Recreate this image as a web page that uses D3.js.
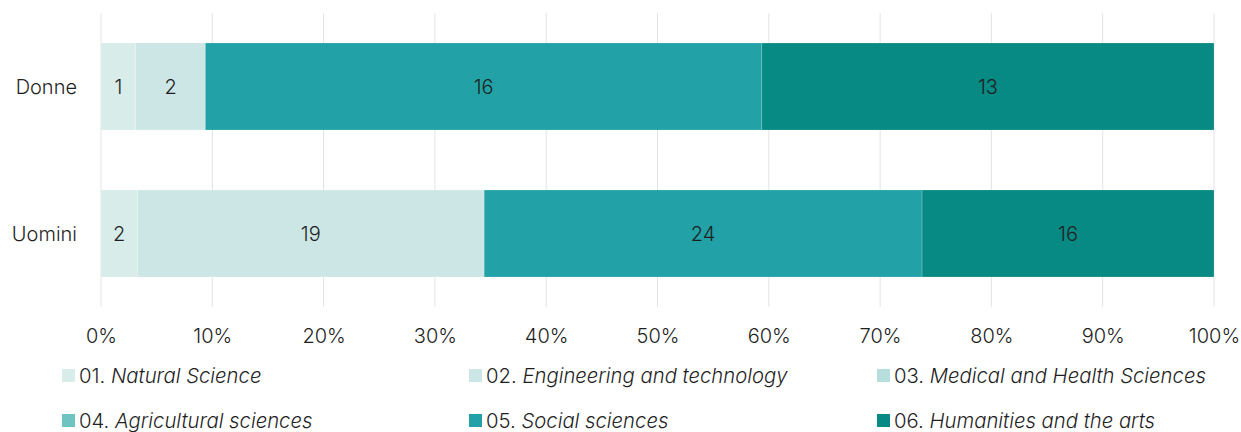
<!DOCTYPE html>
<html>
<head>
<meta charset="utf-8">
<script src="https://cdn.jsdelivr.net/npm/d3@7"></script>
<style>
  html, body { margin: 0; padding: 0; background: #fff; }
  svg { display: block; font-family: Inter, sans-serif; font-weight: 300; }
</style>
</head>
<body>
<svg id="chart" width="1241" height="432"></svg>
<script>
// Groups (rows) and fields of study
const groups = ["Donne", "Uomini"];
const fieldCodes = ["01.", "02.", "03.", "04.", "05.", "06."];
const fieldNames = ["Natural Science", "Engineering and technology", "Medical and Health Sciences",
                    "Agricultural sciences", "Social sciences", "Humanities and the arts"];
const fieldColors = ["#d8ecea", "#cce6e5", "#b6dedc", "#6fc4c1", "#22a2a6", "#068a83"];

// Counts per field, in the order of fieldNames
const donneCounts = [1, 2, 0, 0, 16, 13];
const uominiCounts = [2, 19, 0, 0, 24, 16];

const tickValues = [0, 0.1, 0.2, 0.3, 0.4, 0.5, 0.6, 0.7, 0.8, 0.9, 1.0];

const svg = d3.select("#chart");
const margin = { left: 101, right: 27, top: 13, plotBottom: 307 };
const width = 1241;
const fontSize = 20;
const legendFontSize = 20.3;
const textColor = "#1f1f1f";

const x = d3.scaleLinear().domain([0, 1]).range([margin.left, width - margin.right]);
const y = d3.scaleBand().domain(groups).range([margin.top, margin.plotBottom]).paddingInner(0.408).paddingOuter(0.204);

// Vertical gridlines
svg.append("g").selectAll("line").data(tickValues).join("line")
  .attr("x1", d => x(d)).attr("x2", d => x(d))
  .attr("y1", margin.top).attr("y2", margin.plotBottom)
  .attr("stroke", "#e3e3e3").attr("stroke-width", 1);

// Percent axis
const xAxis = d3.axisBottom(x).tickValues(tickValues).tickFormat(d3.format(".0%")).tickSize(0).tickPadding(0);
const axisG = svg.append("g").attr("transform", `translate(0, ${margin.plotBottom + 22})`).call(xAxis);
axisG.select(".domain").remove();
axisG.selectAll("text").attr("font-size", fontSize).attr("fill", textColor)
  .attr("font-family", "Inter, sans-serif").attr("font-weight", 300);

// Stack data
const rows = [donneCounts, uominiCounts].map((counts, gi) => {
  const total = d3.sum(counts);
  let acc = 0;
  return counts.map((v, i) => {
    const seg = { group: groups[gi], field: i, value: v, x0: acc / total, x1: (acc + v) / total };
    acc += v;
    return seg;
  }).filter(s => s.value > 0);
});

const segs = rows.flat();

svg.append("g").selectAll("rect").data(segs).join("rect")
  .attr("x", d => x(d.x0))
  .attr("width", d => x(d.x1) - x(d.x0))
  .attr("y", d => y(d.group))
  .attr("height", y.bandwidth())
  .attr("fill", d => fieldColors[d.field])
  .attr("stroke", "rgba(255,255,255,0.35)")
  .attr("stroke-width", 0.5);

svg.append("g").selectAll("text").data(segs).join("text")
  .attr("x", d => (x(d.x0) + x(d.x1)) / 2)
  .attr("y", d => y(d.group) + y.bandwidth() / 2)
  .attr("dy", "0.35em")
  .attr("text-anchor", "middle")
  .attr("font-size", fontSize)
  .attr("fill", textColor)
  .text(d => d.value);

// Group labels
svg.append("g").selectAll("text").data(groups).join("text")
  .attr("x", 77)
  .attr("y", d => y(d) + y.bandwidth() / 2)
  .attr("dy", "0.35em")
  .attr("text-anchor", "end")
  .attr("font-size", fontSize)
  .attr("fill", textColor)
  .text(d => d);

// Legend: three columns, two rows
const legendCols = [62, 469, 877];
const legendRows = [376, 421];
const legend = svg.append("g").selectAll("g").data(fieldNames).join("g")
  .attr("transform", (d, i) => `translate(${legendCols[i % 3]}, ${legendRows[Math.floor(i / 3)]})`);

legend.append("rect")
  .attr("x", 0).attr("y", -7).attr("width", 13).attr("height", 13)
  .attr("fill", (d, i) => fieldColors[i]);

const lt = legend.append("text")
  .attr("x", 17).attr("dy", "0.35em")
  .attr("font-size", legendFontSize).attr("fill", textColor);
lt.append("tspan").text((d, i) => fieldCodes[i] + " ");
lt.append("tspan").attr("font-style", "italic").text(d => d);
</script>
</body>
</html>
